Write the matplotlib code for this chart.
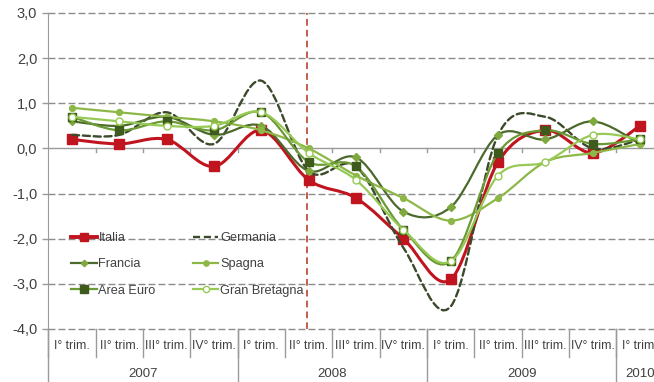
import matplotlib
matplotlib.use("Agg")
import matplotlib.pyplot as plt
from matplotlib.lines import Line2D
from matplotlib.path import Path
from matplotlib.patches import PathPatch

plt.rcParams["font.family"] = ["Liberation Sans", "DejaVu Sans"]

# quarterly GDP change (%), q/q
quarters = ["I° trim.", "II° trim.", "III° trim.", "IV° trim.",
            "I° trim.", "II° trim.", "III° trim.", "IV° trim.",
            "I° trim.", "II° trim.", "III° trim.", "IV° trim.",
            "I° trim."]
years = ["2007", "2008", "2009", "2010"]
year_spans = [4, 4, 4, 1]

italia = [0.2, 0.1, 0.2, -0.4, 0.4, -0.7, -1.1, -2.0, -2.9, -0.3, 0.4, -0.1, 0.5]
germania = [0.3, 0.3, 0.8, 0.1, 1.5, -0.5, -0.4, -2.2, -3.5, 0.3, 0.7, 0.0, 0.2]
francia = [0.6, 0.5, 0.7, 0.3, 0.5, -0.5, -0.2, -1.4, -1.3, 0.3, 0.2, 0.6, 0.1]
spagna = [0.9, 0.8, 0.7, 0.6, 0.4, 0.0, -0.6, -1.1, -1.6, -1.1, -0.3, -0.1, 0.1]
area_euro = [0.7, 0.4, 0.6, 0.4, 0.8, -0.3, -0.4, -1.8, -2.5, -0.1, 0.4, 0.1, 0.2]
gran_bretagna = [0.7, 0.6, 0.5, 0.5, 0.8, -0.1, -0.7, -1.8, -2.5, -0.6, -0.3, 0.3, 0.2]

TEXT = "#404040"
GRID = "#8c8c8c"


def smooth_path(ys):
    # excel-like smoothed line: cubic bezier through every point
    n = len(ys)
    pts = [(float(i), float(v)) for i, v in enumerate(ys)]
    verts = [pts[0]]
    codes = [Path.MOVETO]
    for i in range(n - 1):
        p0 = pts[i - 1] if i > 0 else pts[i]
        p1 = pts[i]
        p2 = pts[i + 1]
        p3 = pts[i + 2] if i + 2 < n else pts[i + 1]
        c1 = (p1[0] + (p2[0] - p0[0]) / 6, p1[1] + (p2[1] - p0[1]) / 6)
        c2 = (p2[0] - (p3[0] - p1[0]) / 6, p2[1] - (p3[1] - p1[1]) / 6)
        verts += [c1, c2, p2]
        codes += [Path.CURVE4] * 3
    return Path(verts, codes)


series = [
    # label, values, line colour, lw, dash, marker, size, face, edge
    ("Italia", italia, "#c0141f", 2.2, None, "s", 6.5, "#c0141f", "#c0141f"),
    ("Germania", germania, "#3c4a2c", 1.7, (0, (3, 1.6)), None, 0, None, None),
    ("Francia", francia, "#4b6a2b", 1.6, None, "D", 3.6, "#7fa83e", "#7fa83e"),
    ("Spagna", spagna, "#8db848", 1.6, None, "o", 4.2, "#8db848", "#8db848"),
    ("Area Euro", area_euro, "#6b9a35", 1.6, None, "s", 6.0, "#3e5b1d", "#3e5b1d"),
    ("Gran Bretagna", gran_bretagna, "#97c955", 1.6, None, "o", 5.0, "white", "#97c955"),
]

fig = plt.figure(figsize=(6.54, 3.82), dpi=100)
ax = fig.add_axes([48.3 / 654, 1 - 329 / 382, 615.5 / 654, 316 / 382])
ax.set_xlim(-0.5, 12.5)
ax.set_ylim(-4, 3)

for v in [-4, -3, -2, -1, 1, 2, 3]:
    ax.axhline(v, color=GRID, lw=1.0, ls=(0, (5, 2.2)), zorder=1, clip_on=False)
ax.axhline(0, color="#9a9a9a", lw=1.0, zorder=1)
for k in range(13):
    ax.plot([k + 0.5, k + 0.5], [0, -0.09], color="#9a9a9a", lw=1.0, zorder=1)

ax.axvline(5 - 0.03, color="#b8432f", lw=1.2, ls=(0, (4, 2.5)), zorder=1.5)

handles = {}
x = list(range(len(quarters)))
for z, (label, vals, col, lw, dash, mk, ms, fc, ec) in enumerate(series):
    patch = PathPatch(smooth_path(vals), facecolor="none", edgecolor=col, lw=lw,
                      ls=dash if dash else "-", zorder=3 + z, capstyle="round")
    ax.add_patch(patch)
    if mk:
        ax.plot(x, vals, ls="none", marker=mk, ms=ms, mfc=fc, mec=ec, mew=1.0, zorder=3.5 + z)
    handles[label] = Line2D([], [], color=col, lw=lw + 0.6 if label == "Italia" else lw,
                            ls=dash if dash else "-", marker=mk, ms=ms * 0.9, mfc=fc, mec=ec, mew=1.0)

for s in ["top", "right", "bottom"]:
    ax.spines[s].set_visible(False)
ax.spines["left"].set_color("#9a9a9a")
ax.spines["left"].set_bounds(-4, 3)
ax.set_xticks([])
ax.set_yticks(range(-4, 4))
ax.set_yticklabels([f"{v},0" for v in range(-4, 4)], fontsize=10.5, color=TEXT)
ax.tick_params(axis="y", length=4, width=1, color="#9a9a9a", pad=4)

# category axis below the plot
trans = ax.get_xaxis_transform()
for i, q in enumerate(quarters):
    ax.text(i, -0.055, q, transform=trans, ha="center", va="center", fontsize=8.8, color=TEXT)
for k in range(13):
    ax.plot([k - 0.5, k - 0.5], [0, -0.088], transform=trans, color="#9a9a9a", lw=1.0, clip_on=False)
start = 0
for yr, span in zip(years, year_spans):
    ax.plot([start - 0.5, start - 0.5], [0, -0.17], transform=trans, color="#9a9a9a", lw=1.0, clip_on=False)
    ax.text(start + span / 2 - 0.5, -0.142, yr, transform=trans, ha="center", va="center",
            fontsize=9.5, color=TEXT)
    start += span

order = ["Italia", "Francia", "Area Euro", "Germania", "Spagna", "Gran Bretagna"]
fig.legend([handles[k] for k in order], order, loc="upper left", ncol=2, frameon=False,
           bbox_to_anchor=(71 / 654, 1 - 232 / 382), borderpad=0, borderaxespad=0,
           handlelength=2.0, handletextpad=0.15, columnspacing=2.9, labelspacing=1.12,
           fontsize=9.2, labelcolor=TEXT)

fig.savefig("out.png", dpi=100)
